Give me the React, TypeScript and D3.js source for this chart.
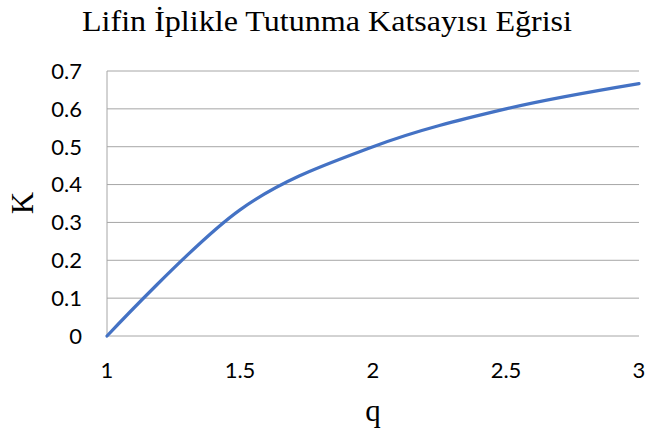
import React from "react";
import * as d3 from "d3";

const qValues = [1, 1.5, 2, 2.5, 3];
const kValues = [0, 0.3333, 0.5, 0.6, 0.6667];
const xTicks = [1, 1.5, 2, 2.5, 3];
const yTicks = [0, 0.1, 0.2, 0.3, 0.4, 0.5, 0.6, 0.7];
const title = "Lifin İplikle Tutunma Katsayısı Eğrisi";
const xTitle = "q";
const yTitle = "K";

export default function App() {
  const W = 647, H = 436;
  const x = d3.scaleLinear().domain([1, 3]).range([107, 639]);
  const y = d3.scaleLinear().domain([0, 0.7]).range([336, 71]);
  const pts = qValues.map((q, i) => [q, kValues[i]] as [number, number]);
  const line = d3.line<[number, number]>()
    .x(d => x(d[0]))
    .y(d => y(d[1]))
    .curve(d3.curveCardinal.tension(0));
  return (
    <svg width={W} height={H} style={{ position: "absolute", left: 0, top: 0 }}>
      <rect width={W} height={H} fill="#fff" />
      <text x={327} y={31} textAnchor="middle" fontFamily="Liberation Serif" fontSize={29} fill="#000"
        textLength={490} lengthAdjust="spacingAndGlyphs">{title}</text>
      {yTicks.map(t => (
        <line key={t} x1={x(1)} x2={x(3)} y1={y(t)} y2={y(t)} stroke="#a6a6a6" strokeWidth={1} />
      ))}
      <line x1={x(1)} x2={x(1)} y1={y(0)} y2={y(0.7)} stroke="#a6a6a6" strokeWidth={1} />
      {yTicks.map(t => (
        <text key={t} x={82} y={y(t)} dy="0.36em" textAnchor="end" fontFamily="Lato" fontSize={22} fill="#000">{String(t)}</text>
      ))}
      {xTicks.map(t => (
        <text key={t} x={x(t)} y={378} textAnchor="middle" fontFamily="Lato" fontSize={22} fill="#000">{String(t)}</text>
      ))}
      <path d={line(pts) || ""} fill="none" stroke="#4472C4" strokeWidth={3.2} strokeLinecap="round" />
      <text x={373} y={421} textAnchor="middle" fontFamily="Liberation Serif" fontSize={31} fill="#000">{xTitle}</text>
      <text transform={`translate(33,203) rotate(-90)`} textAnchor="middle" fontFamily="Liberation Serif" fontSize={31} fill="#000">{yTitle}</text>
    </svg>
  );
}
